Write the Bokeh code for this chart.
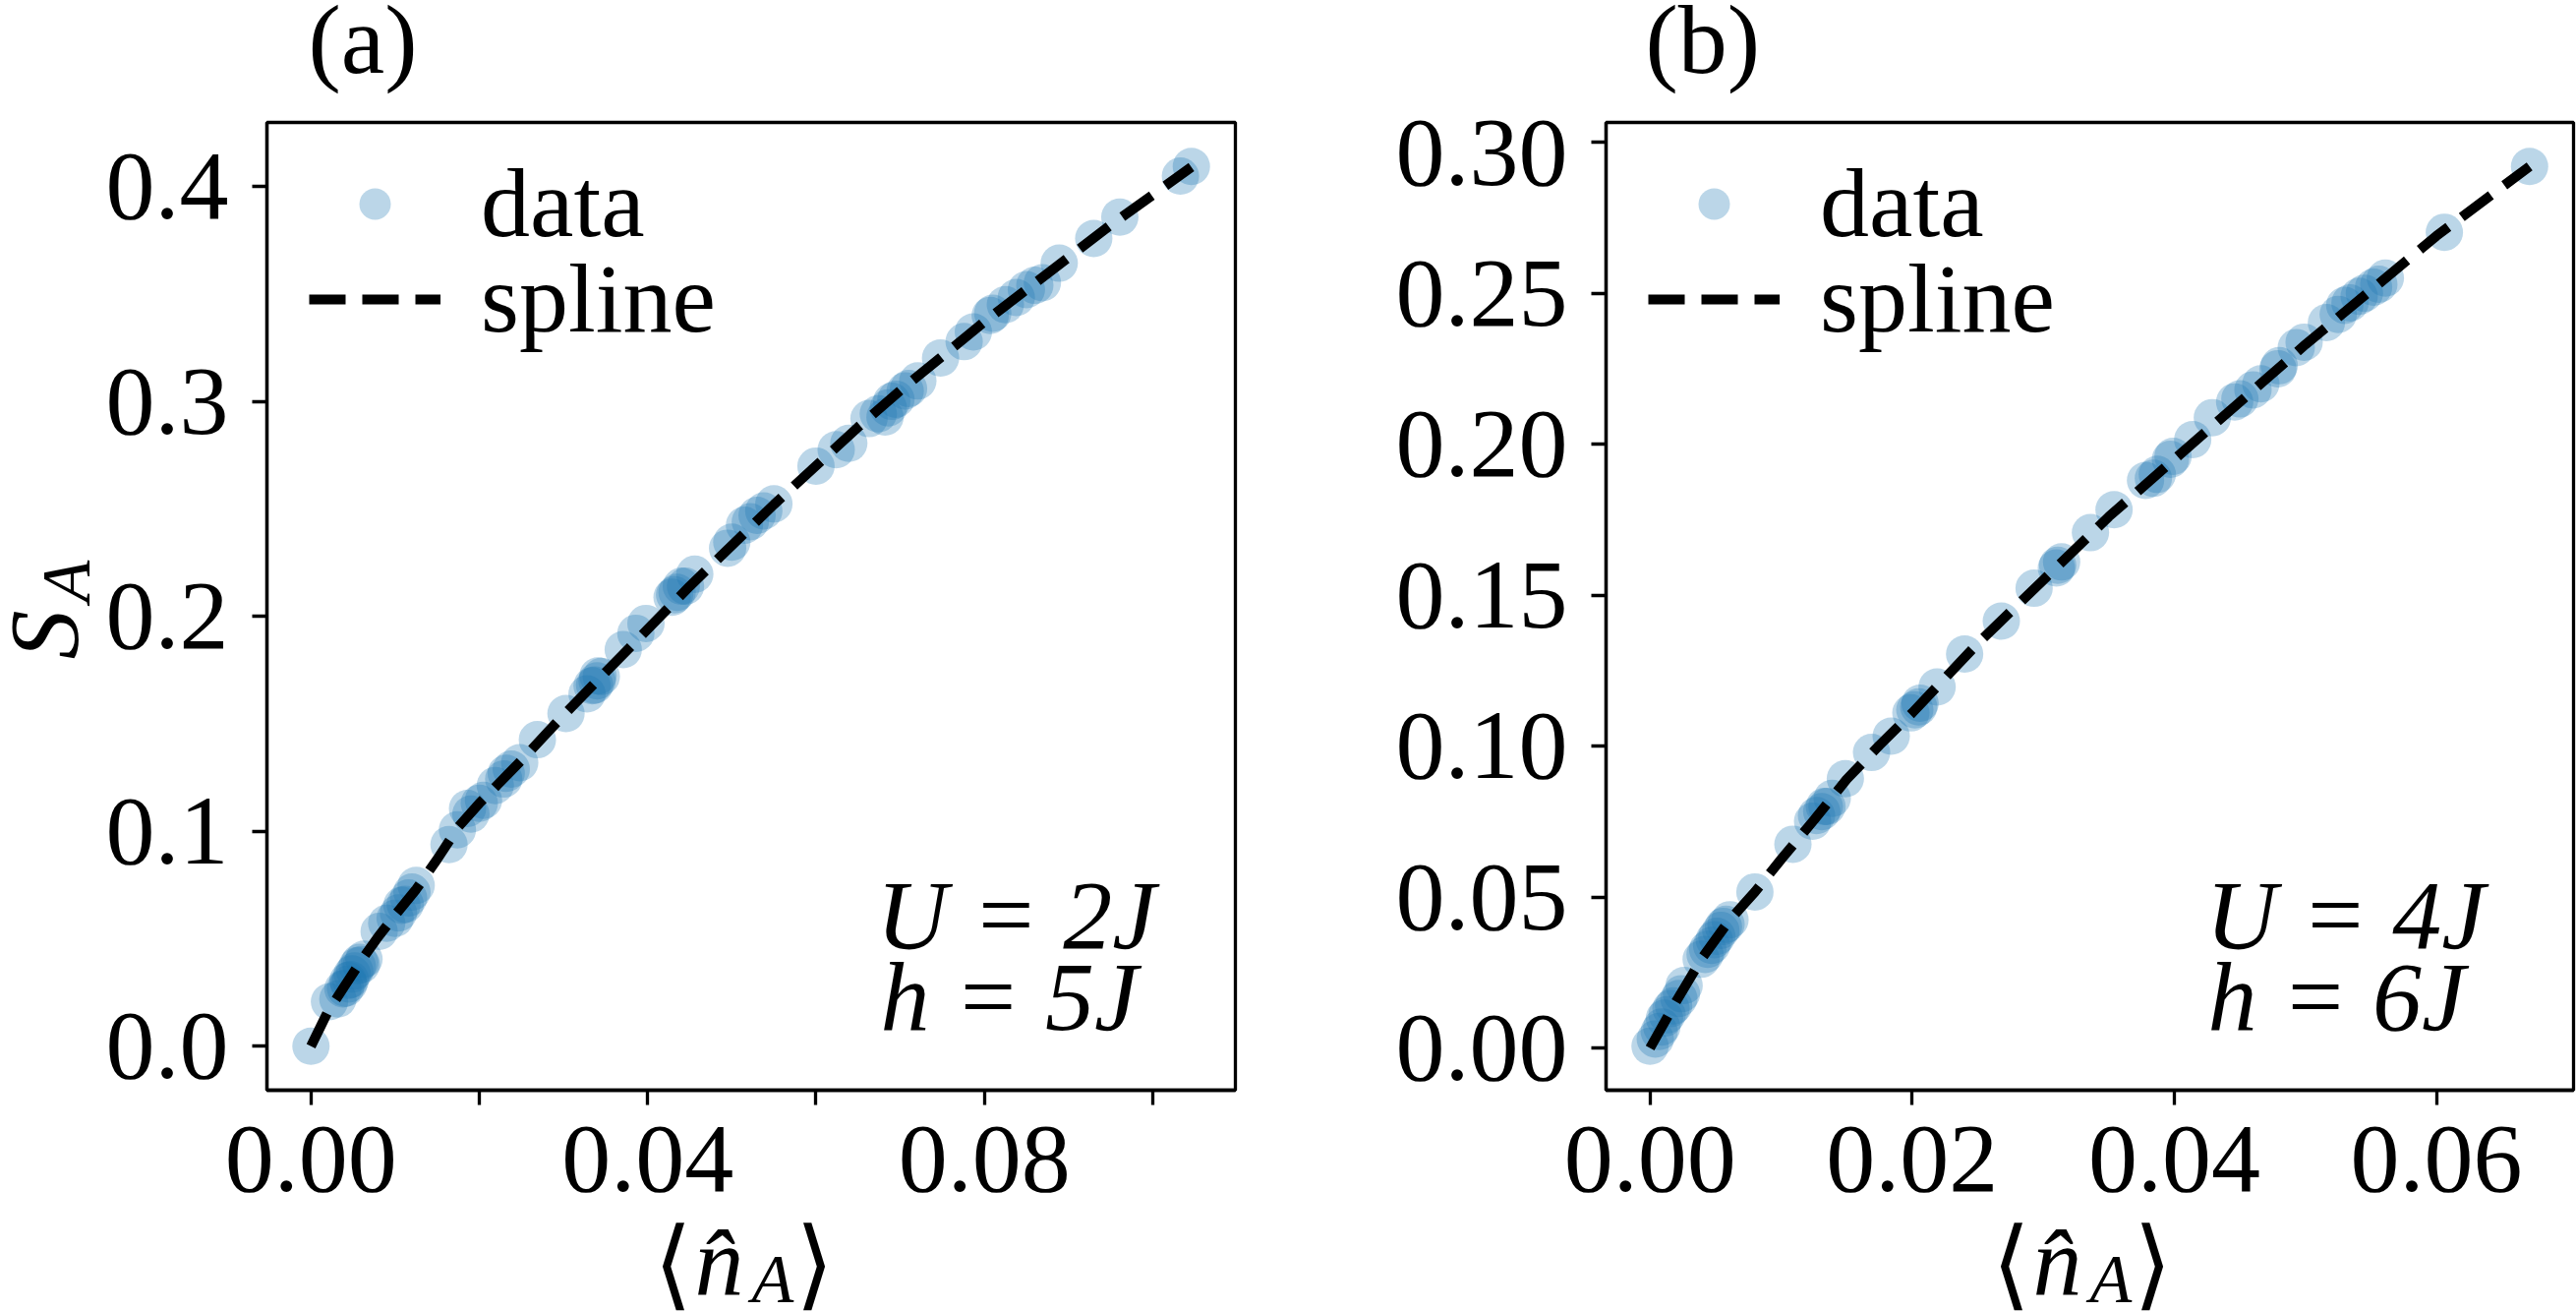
import math
from bokeh.plotting import figure
from bokeh.models import (Range1d, FixedTicker, Label, Legend, LegendItem,
                          ColumnDataSource, PrintfTickFormatter)
from bokeh.layouts import row, column
from bokeh.embed import file_html
from bokeh.resources import INLINE

# ---------------- data ----------------
# panel (a): U = 2J, h = 5J
a_n = [0.0000, 0.0022, 0.0032, 0.0038, 0.0041, 0.0044, 0.0045, 0.0047, 0.0049,
       0.0052, 0.0055, 0.0058, 0.0060, 0.0063, 0.0081, 0.0090, 0.0100, 0.0104,
       0.0108, 0.0112, 0.0116, 0.0120, 0.0125, 0.0164, 0.0174, 0.0186, 0.0190,
       0.0200, 0.0205, 0.0219, 0.0229, 0.0232, 0.0238, 0.0248, 0.0269, 0.0303,
       0.0328, 0.0334, 0.0337, 0.0340, 0.0341, 0.0345, 0.0371, 0.0386, 0.0398,
       0.0429, 0.0432, 0.0435, 0.0440, 0.0445, 0.0456, 0.0495, 0.0500, 0.0515,
       0.0522, 0.0530, 0.0538, 0.0550, 0.0600, 0.0624, 0.0639, 0.0663, 0.0674,
       0.0682, 0.0686, 0.0690, 0.0695, 0.0706, 0.0710, 0.0721, 0.0748, 0.0776,
       0.0787, 0.0807, 0.0810, 0.0825, 0.0838, 0.0850, 0.0860, 0.0869, 0.0889,
       0.0930, 0.0961, 0.1033, 0.1046]
a_S = [0.0000, 0.0207, 0.0220, 0.0267, 0.0270, 0.0306, 0.0290, 0.0310, 0.0336,
       0.0350, 0.0374, 0.0390, 0.0380, 0.0405, 0.0534, 0.0572, 0.0595, 0.0620,
       0.0656, 0.0660, 0.0690, 0.0717, 0.0748, 0.0938, 0.1007, 0.1106, 0.1080,
       0.1130, 0.1144, 0.1213, 0.1243, 0.1270, 0.1289, 0.1319, 0.1426, 0.1548,
       0.1639, 0.1677, 0.1680, 0.1700, 0.1723, 0.1720, 0.1845, 0.1921, 0.1967,
       0.2089, 0.2100, 0.2112, 0.2140, 0.2140, 0.2196, 0.2317, 0.2345, 0.2424,
       0.2440, 0.2470, 0.2490, 0.2523, 0.2699, 0.2775, 0.2805, 0.2920, 0.2942,
       0.2927, 0.2970, 0.3000, 0.3010, 0.3049, 0.3060, 0.3095, 0.3202, 0.3278,
       0.3323, 0.3400, 0.3410, 0.3450, 0.3483, 0.3520, 0.3540, 0.3552, 0.3643,
       0.3758, 0.3857, 0.4048, 0.4093]
a_spline_n = [0.0, 0.002, 0.004, 0.006, 0.008, 0.010, 0.0125, 0.015, 0.0175,
              0.020, 0.025, 0.030, 0.035, 0.040, 0.045, 0.050, 0.055, 0.060,
              0.065, 0.070, 0.075, 0.080, 0.085, 0.090, 0.095, 0.100, 0.1046]
a_spline_S = [0.0, 0.016, 0.028, 0.040, 0.051, 0.061, 0.073, 0.087, 0.102,
              0.113, 0.133, 0.154, 0.174, 0.194, 0.214, 0.233, 0.252, 0.270,
              0.288, 0.305, 0.321, 0.337, 0.352, 0.367, 0.382, 0.396, 0.409]
a_xticks = [0.00, 0.02, 0.04, 0.06, 0.08, 0.10]
a_xtick_hidden = [0.02, 0.06, 0.10]
a_yticks = [0.0, 0.1, 0.2, 0.3, 0.4]

# panel (b): U = 4J, h = 6J
b_n = [0.0000, 0.0004, 0.0007, 0.0009, 0.0011, 0.0013, 0.0016, 0.0018, 0.0022,
       0.0024, 0.0026, 0.0039, 0.0042, 0.0044, 0.0047, 0.0049, 0.0051, 0.0054,
       0.0056, 0.0058, 0.0061, 0.0080, 0.0109, 0.0124, 0.0127, 0.0131, 0.0133,
       0.0135, 0.0139, 0.0149, 0.0169, 0.0184, 0.0199, 0.0202, 0.0205, 0.0206,
       0.0219, 0.0240, 0.0268, 0.0293, 0.0310, 0.0311, 0.0314, 0.0336, 0.0354,
       0.0378, 0.0384, 0.0387, 0.0397, 0.0399, 0.0414, 0.0429, 0.0446, 0.0450,
       0.0460, 0.0466, 0.0479, 0.0480, 0.0493, 0.0499, 0.0516, 0.0525, 0.0530,
       0.0534, 0.0541, 0.0545, 0.0552, 0.0556, 0.0561, 0.0606, 0.0671]
b_S = [0.0006, 0.0030, 0.0055, 0.0070, 0.0099, 0.0110, 0.0131, 0.0140, 0.0164,
       0.0180, 0.0207, 0.0294, 0.0310, 0.0327, 0.0340, 0.0359, 0.0370, 0.0390,
       0.0403, 0.0410, 0.0425, 0.0517, 0.0675, 0.0751, 0.0770, 0.0783, 0.0800,
       0.0800, 0.0827, 0.0892, 0.0979, 0.1033, 0.1110, 0.1120, 0.1130, 0.1142,
       0.1196, 0.1305, 0.1414, 0.1523, 0.1590, 0.1599, 0.1610, 0.1707, 0.1783,
       0.1880, 0.1887, 0.1900, 0.1950, 0.1960, 0.2015, 0.2088, 0.2140, 0.2150,
       0.2180, 0.2200, 0.2250, 0.2260, 0.2320, 0.2338, 0.2403, 0.2430, 0.2460,
       0.2468, 0.2490, 0.2500, 0.2520, 0.2530, 0.2550, 0.2702, 0.2920]
b_spline_n = [0.0, 0.002, 0.004, 0.006, 0.008, 0.010, 0.0125, 0.015, 0.0175,
              0.020, 0.025, 0.030, 0.035, 0.040, 0.045, 0.050, 0.055, 0.060,
              0.0671]
b_spline_S = [0.0, 0.0155, 0.0300, 0.0420, 0.0517, 0.0625, 0.0755, 0.0890,
              0.1003, 0.1110, 0.1340, 0.1550, 0.1760, 0.1950, 0.2140, 0.2330,
              0.2510, 0.2690, 0.2920]
b_xticks = [0.00, 0.02, 0.04, 0.06]
b_xtick_hidden = []
b_yticks = [0.00, 0.05, 0.10, 0.15, 0.20, 0.25, 0.30]

legend_labels = ["data", "spline"]
panel_titles = ["(a)", "(b)"]
param_lines = [["U = 2J", "h = 5J"], ["U = 4J", "h = 6J"]]
y_label = ("S", "A")
x_label = ("\u27e8", "n\u0302", "A", "\u27e9")

# ---------------- styling / layout ----------------
FONT = "Liberation Serif"
BRACKET_FONT = "Noto Sans CJK JP"
BLUE = "#1f77b4"
FS = "100px"
PAGE_H = 1334
TOP_H = 122          # title strip height
MAIN_H = 1117        # main figure height (frame 124..1108 on the page)
XL_H = PAGE_H - TOP_H - MAIN_H   # x-label strip height
BT, BB = 2, 131
FRAME_BOTTOM = TOP_H + MAIN_H - BB   # 1108


def mpl_range(vals):
    lo, hi = min(vals), max(vals)
    pad = 0.05 * (hi - lo)
    return Range1d(lo - pad, hi + pad)


def strip(width, height):
    """blank figure used only to carry text outside the plot frame"""
    s = figure(width=width, height=height, output_backend="svg",
               toolbar_location=None, x_axis_type=None, y_axis_type=None,
               x_range=Range1d(0, 1), y_range=Range1d(0, 1),
               min_border=0, min_border_left=0, min_border_right=0,
               min_border_top=0, min_border_bottom=0)
    s.outline_line_color = None
    s.background_fill_color = "white"
    s.border_fill_color = "white"
    return s


def lab(p, x, y, text, size=100, style="normal", angle=0.0, font=FONT):
    # text_baseline "middle": the glyph baseline lies ~0.36*size below y
    p.add_layout(Label(x=x, y=y, x_units="screen", y_units="screen",
                       text=text, text_font=font, text_font_size=f"{size}px",
                       text_font_style=style, text_color="black",
                       text_align="left", text_baseline="middle",
                       angle=angle))


def main_panel(n, S, sp_n, sp_S, xticks, hidden, yticks, xfmt, yfmt,
               width, bl, br, lines, tx):
    p = figure(width=width, height=MAIN_H, output_backend="svg",
               toolbar_location=None,
               x_range=mpl_range(n), y_range=mpl_range(S),
               min_border_left=bl, min_border_right=br,
               min_border_top=BT, min_border_bottom=BB)
    p.xgrid.visible = False
    p.ygrid.visible = False
    p.background_fill_color = "white"
    p.border_fill_color = "white"
    p.outline_line_color = "black"
    p.outline_line_width = 3.3
    p.outline_line_alpha = 1.0

    p.xaxis.ticker = FixedTicker(ticks=xticks)
    p.yaxis.ticker = FixedTicker(ticks=yticks)
    p.xaxis.formatter = PrintfTickFormatter(format=xfmt)
    p.yaxis.formatter = PrintfTickFormatter(format=yfmt)
    if hidden:
        p.xaxis.major_label_overrides = {v: "" for v in hidden}
    for ax in (p.xaxis, p.yaxis):
        ax.axis_line_width = 3.3
        ax.axis_line_color = "black"
        ax.major_tick_line_width = 3.3
        ax.major_tick_line_color = "black"
        ax.major_tick_out = 15
        ax.major_tick_in = 0
        ax.minor_tick_line_color = None
        ax.major_label_text_font = FONT
        ax.major_label_text_font_size = FS
        ax.major_label_text_color = "black"
    p.yaxis.major_label_standoff = 24
    p.xaxis.major_label_standoff = 22

    src = ColumnDataSource(dict(n=n, S=S))
    r_pts = p.scatter("n", "S", source=src, size=38, fill_color=BLUE,
                      fill_alpha=0.3, line_color=None)
    sp = ColumnDataSource(dict(n=sp_n, S=sp_S))
    r_ln = p.line("n", "S", source=sp, line_color="black", line_width=10,
                  line_dash="37 17")

    # one legend per entry so that the two rows sit as close as in the reference
    ITEM_H = 114
    common = dict(margin=0, padding=0, spacing=0, glyph_width=134,
                  glyph_height=80, label_standoff=41, label_text_font=FONT,
                  label_text_font_size=FS, label_text_color="black",
                  background_fill_alpha=0, border_line_alpha=0)
    for label, rend, centre in ((legend_labels[0], r_pts, 207),
                                (legend_labels[1], r_ln, 304)):
        top = centre - ITEM_H / 2
        vy = int(round(FRAME_BOTTOM - top - ITEM_H))
        p.add_layout(Legend(items=[LegendItem(label=label, renderers=[rend])],
                            location=(43, vy), **common))

    lab(p, tx[0], FRAME_BOTTOM - 930, lines[0], style="italic")
    lab(p, tx[1], FRAME_BOTTOM - 1013, lines[1], style="italic")
    return p


def title_strip(width, x, text):
    s = strip(width, TOP_H)
    lab(s, x, TOP_H - (76 - 36), text)
    return s


def xlabel_strip(width, xs):
    s = strip(width, XL_H)
    top = TOP_H + MAIN_H

    def y_of(anchor_page_y):
        return XL_H - (anchor_page_y - top)

    lab(s, xs[0], y_of(1275), x_label[0], size=100, font=BRACKET_FONT)
    lab(s, xs[1], y_of(1318 - 36), x_label[1], size=100, style="italic")
    lab(s, xs[2], y_of(1325 - 25), x_label[2], size=70, style="italic")
    lab(s, xs[3], y_of(1275), x_label[3], size=100, font=BRACKET_FONT)
    return s


def ylabel_strip(width):
    s = strip(width, PAGE_H)
    lab(s, 80 - 36, PAGE_H - 670, y_label[0], style="italic", angle=math.pi / 2)
    lab(s, 92 - 25, PAGE_H - 612, y_label[1], size=70, style="italic",
        angle=math.pi / 2)
    return s


YL_W = 100
A_W = 1400 - YL_W
B_W = 1220
A_FL = 271       # page x of frame left, panel (a)
B_FL = 1633      # page x of frame left, panel (b)

pa = main_panel(a_n, a_S, a_spline_n, a_spline_S, a_xticks, a_xtick_hidden,
                a_yticks, "%.2f", "%.1f", A_W, A_FL - YL_W, 144,
                param_lines[0], (620, 624))
pb = main_panel(b_n, b_S, b_spline_n, b_spline_S, b_xticks, b_xtick_hidden,
                b_yticks, "%.2f", "%.2f", B_W, B_FL - 1400, 3,
                param_lines[1], (610, 612))

XL_A = [664, 706, 764, 808]            # page x of the x-label pieces, panel (a)
XL_B = [x + 1361 for x in XL_A]        # same offset from the frame centre in (b)

# the strips in a column share the frame alignment of the main figure,
# so their texts are positioned relative to the frame's left edge
col_a = column(title_strip(A_W, 313 - A_FL, panel_titles[0]), pa,
               xlabel_strip(A_W, [x - A_FL for x in XL_A]), spacing=0)
col_b = column(title_strip(B_W, 1673 - B_FL, panel_titles[1]), pb,
               xlabel_strip(B_W, [x - B_FL for x in XL_B]), spacing=0)
layout = row(ylabel_strip(YL_W), col_a, col_b, spacing=0)
open("out.html", "w").write(file_html(layout, INLINE))
